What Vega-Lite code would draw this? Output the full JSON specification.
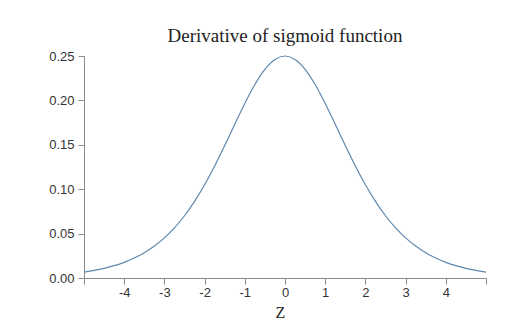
{
  "$schema": "https://vega.github.io/schema/vega-lite/v6.json",
  "width": 402,
  "height": 222,
  "autosize": {"type": "none"},
  "padding": {"left": 84, "top": 56, "right": 43, "bottom": 46},
  "background": "white",
  "title": {
    "text": "Derivative of sigmoid function",
    "font": "Liberation Serif",
    "fontSize": 19,
    "fontWeight": "normal",
    "color": "#222222",
    "anchor": "middle",
    "frame": "group",
    "offset": 4
  },
  "config": {
    "view": {"stroke": null},
    "axis": {
      "grid": false,
      "domainColor": "#8a8a8a",
      "tickColor": "#8a8a8a",
      "tickSize": 6,
      "labelFont": "Liberation Sans",
      "labelFontSize": 13,
      "labelColor": "#333333"
    }
  },
  "data": {
    "values": [
      {"z": -5, "d": 0.006648},
      {"z": -4.75, "d": 0.008503},
      {"z": -4.5, "d": 0.010866},
      {"z": -4.25, "d": 0.013866},
      {"z": -4, "d": 0.017663},
      {"z": -3.75, "d": 0.022449},
      {"z": -3.5, "d": 0.028453},
      {"z": -3.25, "d": 0.035934},
      {"z": -3, "d": 0.045177},
      {"z": -2.75, "d": 0.056476},
      {"z": -2.5, "d": 0.070104},
      {"z": -2.25, "d": 0.086257},
      {"z": -2, "d": 0.104994},
      {"z": -1.75, "d": 0.126129},
      {"z": -1.5, "d": 0.149146},
      {"z": -1.25, "d": 0.173105},
      {"z": -1, "d": 0.196612},
      {"z": -0.75, "d": 0.217895},
      {"z": -0.5, "d": 0.235004},
      {"z": -0.25, "d": 0.246134},
      {"z": 0, "d": 0.25},
      {"z": 0.25, "d": 0.246134},
      {"z": 0.5, "d": 0.235004},
      {"z": 0.75, "d": 0.217895},
      {"z": 1, "d": 0.196612},
      {"z": 1.25, "d": 0.173105},
      {"z": 1.5, "d": 0.149146},
      {"z": 1.75, "d": 0.126129},
      {"z": 2, "d": 0.104994},
      {"z": 2.25, "d": 0.086257},
      {"z": 2.5, "d": 0.070104},
      {"z": 2.75, "d": 0.056476},
      {"z": 3, "d": 0.045177},
      {"z": 3.25, "d": 0.035934},
      {"z": 3.5, "d": 0.028453},
      {"z": 3.75, "d": 0.022449},
      {"z": 4, "d": 0.017663},
      {"z": 4.25, "d": 0.013866},
      {"z": 4.5, "d": 0.010866},
      {"z": 4.75, "d": 0.008503},
      {"z": 5, "d": 0.006648}
    ]
  },
  "mark": {"type": "line", "color": "#5f87ad", "strokeWidth": 1.2, "interpolate": "monotone"},
  "encoding": {
    "x": {
      "field": "z",
      "type": "quantitative",
      "scale": {"domain": [-5, 5], "nice": false},
      "axis": {
        "values": [-5, -4, -3, -2, -1, 0, 1, 2, 3, 4, 5],
        "labelExpr": "abs(datum.value) == 5 ? '' : '' + datum.value",
        "labelPadding": 2,
        "title": "Z",
        "titleFont": "Liberation Serif",
        "titleFontSize": 16,
        "titleFontWeight": "normal",
        "titleColor": "#222222",
        "titleX": 196,
        "titleY": 39,
        "titleBaseline": "alphabetic",
        "titleAnchor": "middle"
      }
    },
    "y": {
      "field": "d",
      "type": "quantitative",
      "scale": {"domain": [0, 0.25], "nice": false},
      "axis": {
        "values": [0, 0.05, 0.1, 0.15, 0.2, 0.25],
        "format": ".2f",
        "labelPadding": 4,
        "title": null
      }
    }
  }
}
